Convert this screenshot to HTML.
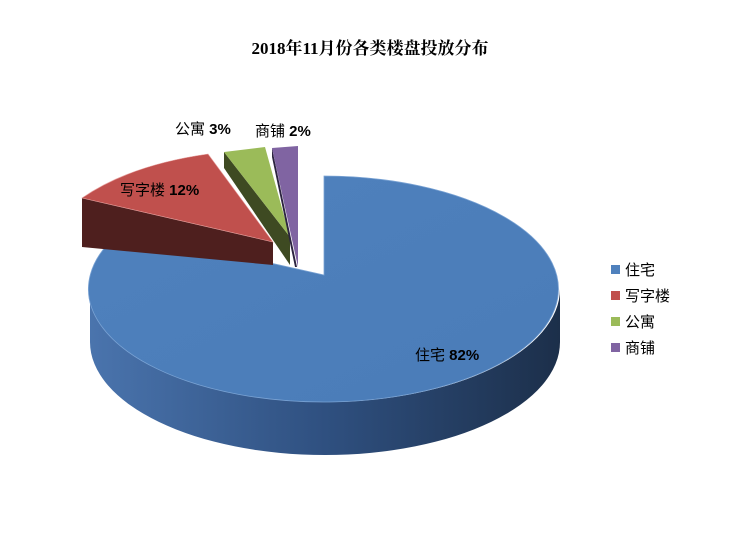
<!DOCTYPE html>
<html><head><meta charset="utf-8"><style>
body{margin:0;background:#fff;}
svg text{font-family:"Liberation Sans","Noto Sans CJK SC",sans-serif;}
</style></head><body>
<svg width="740" height="539" viewBox="0 0 740 539" xmlns="http://www.w3.org/2000/svg">
<defs>
<linearGradient id="side" x1="0" x2="1" y1="0" y2="0">
<stop offset="0" stop-color="#4a74ad"/><stop offset="0.5" stop-color="#2f5080"/><stop offset="1" stop-color="#1c2f4a"/>
</linearGradient>
<linearGradient id="top" x1="0" x2="1" y1="0" y2="1">
<stop offset="0" stop-color="#4f81bd"/><stop offset="1" stop-color="#4a7cb8"/>
</linearGradient>
</defs>
<text x="370" y="54" text-anchor="middle" font-size="17" font-weight="bold" style="font-family:'Liberation Serif','Noto Serif CJK SC',serif">2018年11月份各类楼盘投放分布</text>
<!-- blue side -->
<path d="M90,289 A235,113 0 0 0 560,289 L560,342 A235,113 0 0 1 90,342 Z" fill="url(#side)"/>
<!-- blue top -->
<path d="M324,275 L324,176 A235,113 0 1 1 123,230 Z" fill="url(#top)" stroke="#7aa3d4" stroke-width="0.8"/>
<!-- red -->
<path d="M82,198 L273,242 L273,265 L82,247 Z" fill="#4e1f1e"/>
<path d="M82,198 Q130,165 208,154 L273,242 Z" fill="#c0504d" stroke="#e8a3a1" stroke-width="0.6"/>
<!-- green -->
<path d="M224,152 L290,237 L290,265 L224,168 Z" fill="#3e4a22"/>
<path d="M224,152 L265,147 L290,237 Z" fill="#9bbb59"/>
<!-- purple -->
<path d="M272,148 L297,267 L295,267 L272,157 Z" fill="#2c2340"/>
<path d="M272,148 L298,146 L298,267 Z" fill="#8064a2"/>
<!-- labels -->
<text x="175" y="134" font-size="15">公寓 <tspan font-weight="bold">3%</tspan></text>
<text x="255" y="136" font-size="15">商铺 <tspan font-weight="bold">2%</tspan></text>
<text x="120" y="195" font-size="15">写字楼 <tspan font-weight="bold">12%</tspan></text>
<text x="415" y="360" font-size="15">住宅 <tspan font-weight="bold">82%</tspan></text>
<!-- legend -->
<rect x="611" y="265" width="9" height="9" fill="#4f81bd"/>
<text x="625" y="275" font-size="15">住宅</text>
<rect x="611" y="291" width="9" height="9" fill="#c0504d"/>
<text x="625" y="301" font-size="15">写字楼</text>
<rect x="611" y="317" width="9" height="9" fill="#9bbb59"/>
<text x="625" y="327" font-size="15">公寓</text>
<rect x="611" y="343" width="9" height="9" fill="#8064a2"/>
<text x="625" y="353" font-size="15">商铺</text>
</svg>
</body></html>
